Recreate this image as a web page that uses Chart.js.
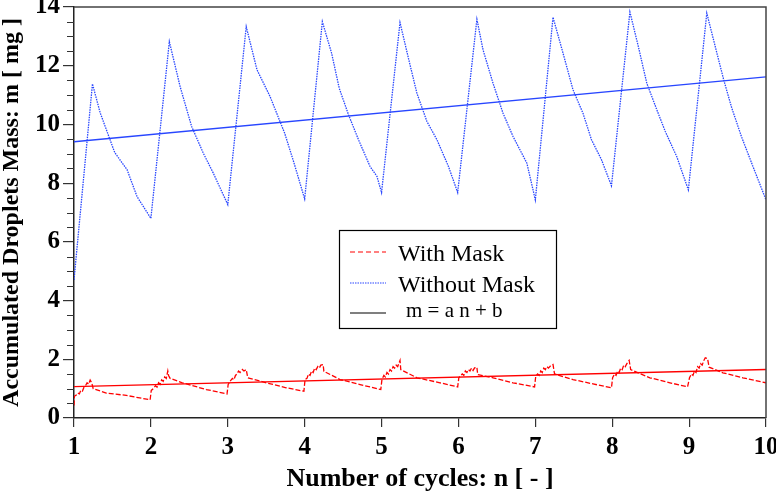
<!DOCTYPE html>
<html>
<head>
<meta charset="utf-8">
<script src="https://cdn.jsdelivr.net/npm/chart.js@4.4.1/dist/chart.umd.min.js"></script>
<style>
    html, body { margin: 0; padding: 0; background: #fff; }
    #wrap { position: relative; width: 776px; height: 493px; }
</style>
</head>
<body>
<div id="wrap"><canvas id="chart" width="776" height="493"></canvas></div>
<script>
// Without mask (blue dotted): cycle number n and mass m [mg]
const noMaskN = [1.00, 1.24, 1.34, 1.53, 1.69, 1.82, 2.00,
    2.24, 2.38, 2.53, 2.68, 2.81, 3.00,
    3.24, 3.38, 3.55, 3.74, 3.86, 4.00,
    4.23, 4.35, 4.45, 4.57, 4.70, 4.85, 4.94, 5.00,
    5.24, 5.35, 5.46, 5.59, 5.72, 5.87, 5.99,
    6.24, 6.32, 6.45, 6.58, 6.71, 6.89, 7.00,
    7.23, 7.36, 7.49, 7.62, 7.73, 7.86, 7.99,
    8.23, 8.34, 8.45, 8.58, 8.69, 8.84, 8.99,
    9.23, 9.34, 9.45, 9.55, 9.68, 9.83, 10.00];
const noMaskM = [4.70, 11.38, 10.40, 9.04, 8.46, 7.54, 6.80,
    12.82, 11.29, 9.93, 9.03, 8.35, 7.27,
    13.33, 11.86, 10.95, 9.70, 8.70, 7.46,
    13.50, 12.43, 11.23, 10.33, 9.48, 8.57, 8.23, 7.68,
    13.47, 12.25, 11.06, 10.10, 9.48, 8.57, 7.68,
    13.58, 12.54, 11.40, 10.38, 9.59, 8.68, 7.43,
    13.65, 12.43, 11.18, 10.38, 9.48, 8.80, 7.91,
    13.83, 12.65, 11.40, 10.50, 9.76, 8.90, 7.77,
    13.79, 12.65, 11.52, 10.60, 9.59, 8.57, 7.43];

// With mask (red dashed)
const maskN = [1.000, 1.005, 1.03, 1.05, 1.07, 1.09, 1.11, 1.13, 1.15, 1.17, 1.19, 1.21, 1.23, 1.25, 1.42, 1.68, 1.99,
    2.005, 2.03, 2.06, 2.08, 2.10, 2.12, 2.14, 2.16, 2.18, 2.20, 2.22, 2.23, 2.25, 2.41, 2.72, 2.99,
    3.005, 3.03, 3.06, 3.08, 3.10, 3.12, 3.14, 3.16, 3.19, 3.21, 3.24, 3.26, 3.50, 3.76, 3.99,
    4.005, 4.03, 4.05, 4.07, 4.09, 4.11, 4.13, 4.15, 4.17, 4.19, 4.21, 4.24, 4.25, 4.46, 4.72, 4.99,
    5.005, 5.03, 5.05, 5.07, 5.09, 5.11, 5.13, 5.15, 5.17, 5.19, 5.21, 5.24, 5.25, 5.46, 5.76, 5.99,
    6.005, 6.03, 6.05, 6.07, 6.09, 6.11, 6.13, 6.15, 6.17, 6.19, 6.21, 6.24, 6.25, 6.45, 6.71, 6.99,
    7.005, 7.03, 7.05, 7.07, 7.09, 7.11, 7.13, 7.15, 7.17, 7.20, 7.23, 7.25, 7.49, 7.75, 7.99,
    8.005, 8.03, 8.05, 8.07, 8.09, 8.11, 8.13, 8.15, 8.17, 8.19, 8.22, 8.24, 8.49, 8.75, 8.98,
    9.005, 9.03, 9.05, 9.07, 9.09, 9.11, 9.13, 9.15, 9.17, 9.19, 9.21, 9.24, 9.26, 9.44, 9.70, 10.00];
const maskM = [0.43, 0.74, 0.78, 0.85, 0.82, 0.95, 0.92, 1.05, 1.10, 1.20, 1.15, 1.29, 1.20, 1.00, 0.85, 0.77, 0.62,
    0.94, 1.00, 1.10, 1.05, 1.20, 1.15, 1.30, 1.25, 1.40, 1.35, 1.60, 1.45, 1.35, 1.20, 0.97, 0.82,
    1.14, 1.25, 1.35, 1.30, 1.45, 1.50, 1.60, 1.55, 1.65, 1.60, 1.65, 1.37, 1.20, 1.03, 0.91,
    1.31, 1.35, 1.50, 1.45, 1.60, 1.55, 1.70, 1.65, 1.75, 1.70, 1.80, 1.82, 1.59, 1.31, 1.14, 0.97,
    1.31, 1.45, 1.40, 1.55, 1.50, 1.65, 1.60, 1.75, 1.70, 1.80, 1.75, 1.96, 1.65, 1.37, 1.20, 1.06,
    1.37, 1.45, 1.50, 1.45, 1.60, 1.55, 1.65, 1.60, 1.70, 1.62, 1.71, 1.73, 1.48, 1.37, 1.20, 1.06,
    1.42, 1.50, 1.45, 1.60, 1.55, 1.70, 1.65, 1.75, 1.70, 1.78, 1.82, 1.50, 1.31, 1.16, 1.03,
    1.37, 1.50, 1.45, 1.60, 1.55, 1.70, 1.65, 1.80, 1.75, 1.85, 1.96, 1.65, 1.37, 1.20, 1.06,
    1.37, 1.50, 1.45, 1.60, 1.55, 1.75, 1.70, 1.85, 1.80, 1.95, 2.05, 2.02, 1.73, 1.54, 1.37, 1.20];

// linear fits m = a n + b, given by their ends at n = 1 and n = 10
const fitN = [1, 10];
const fitNoMask = [9.41, 11.62];
const fitMask = [1.07, 1.65];

const yMinorStep = 0.5;
const legendLabels = ['With Mask', 'Without Mask', 'm = a n + b'];

const BLUE = 'rgb(40, 70, 255)';
const RED = 'rgb(255, 0, 0)';
const SERIF = "'Liberation Serif', 'Times New Roman', serif";

function toPoints(xs, ys) {
    return xs.map((x, i) => ({ x: x, y: ys[i] }));
}

// frame on top and right of the plot, plus short minor ticks on the y axis
const framePlugin = {
    id: 'frame',
    afterDraw(chart) {
        const a = chart.chartArea;
        const ctx = chart.ctx;
        const y = chart.scales.y;
        ctx.save();
        ctx.strokeStyle = '#444';
        ctx.lineWidth = 1.5;
        ctx.beginPath();
        ctx.moveTo(a.left, a.top);
        ctx.lineTo(a.right, a.top);
        ctx.lineTo(a.right, a.bottom);
        ctx.stroke();

        ctx.strokeStyle = '#333';
        ctx.lineWidth = 1.2;
        ctx.beginPath();
        for (let v = y.min; v <= y.max; v += yMinorStep) {
            if (v % 2 === 0) continue;
            const py = Math.round(y.getPixelForValue(v)) + 0.5;
            ctx.moveTo(a.left - 7, py);
            ctx.lineTo(a.left, py);
        }
        ctx.stroke();
        ctx.restore();
    }
};

// legend box sitting inside the plot
const boxLegend = {
    id: 'boxLegend',
    afterDraw(chart) {
        const ctx = chart.ctx;
        ctx.save();
        ctx.fillStyle = '#fff';
        ctx.fillRect(339, 230, 217, 98);
        ctx.strokeStyle = '#000';
        ctx.lineWidth = 1.2;
        ctx.strokeRect(339.5, 230.5, 217, 98);

        const rows = [
            { y: 252, color: RED, dash: [5, 3], tx: 398, ty: 261, font: '24px ' + SERIF },
            { y: 283, color: BLUE, dash: [1.5, 1], tx: 398, ty: 292, font: '24px ' + SERIF },
            { y: 313, color: '#000', dash: [], tx: 406, ty: 317, font: '21px ' + SERIF }
        ];
        rows.forEach((r, i) => {
            ctx.strokeStyle = r.color;
            ctx.lineWidth = 1.2;
            ctx.setLineDash(r.dash);
            ctx.beginPath();
            ctx.moveTo(350, r.y);
            ctx.lineTo(386, r.y);
            ctx.stroke();
            ctx.setLineDash([]);
            ctx.fillStyle = '#000';
            ctx.font = r.font;
            ctx.textBaseline = 'alphabetic';
            ctx.fillText(legendLabels[i], r.tx, r.ty);
        });
        ctx.restore();
    }
};

const ctx = document.getElementById('chart');
new Chart(ctx, {
    type: 'line',
    data: {
        datasets: [
            {
                label: 'Without Mask',
                data: toPoints(noMaskN, noMaskM),
                borderColor: BLUE,
                borderWidth: 1.3,
                borderDash: [1.5, 1],
                pointRadius: 0,
                tension: 0
            },
            {
                label: 'With Mask',
                data: toPoints(maskN, maskM),
                borderColor: RED,
                borderWidth: 1.3,
                borderDash: [5, 2],
                pointRadius: 0,
                tension: 0
            },
            {
                label: 'fit without mask',
                data: toPoints(fitN, fitNoMask),
                borderColor: BLUE,
                borderWidth: 1.4,
                pointRadius: 0
            },
            {
                label: 'fit with mask',
                data: toPoints(fitN, fitMask),
                borderColor: RED,
                borderWidth: 1.4,
                pointRadius: 0
            }
        ]
    },
    options: {
        responsive: false,
        animation: false,
        devicePixelRatio: 1,
        layout: { padding: { top: 7, right: 10, left: 0, bottom: 0 } },
        plugins: {
            legend: { display: false },
            tooltip: { enabled: false }
        },
        scales: {
            x: {
                type: 'linear',
                min: 1,
                max: 10,
                ticks: {
                    stepSize: 1,
                    color: '#000',
                    padding: 6,
                    font: { family: SERIF, size: 25, weight: 'bold' }
                },
                grid: { drawOnChartArea: false, drawTicks: true, tickLength: 9, color: '#333', lineWidth: 1.2 },
                border: { color: '#222', width: 1.5 },
                title: {
                    display: true,
                    text: 'Number of cycles: n [ - ]',
                    color: '#000',
                    font: { family: SERIF, size: 26, weight: 'bold', lineHeight: 1 },
                    padding: { top: 0, bottom: 1 }
                },
                afterFit(scale) {
                    scale.height = 75;
                    scale.paddingLeft = 0;
                    scale.paddingRight = 0;
                }
            },
            y: {
                min: 0,
                max: 14,
                ticks: {
                    stepSize: 2,
                    autoSkip: false,
                    color: '#000',
                    padding: 3,
                    font: { family: SERIF, size: 25, weight: 'bold' }
                },
                grid: { drawOnChartArea: false, drawTicks: true, tickLength: 11, color: '#333', lineWidth: 1.2 },
                border: { color: '#222', width: 1.5 },
                title: {
                    display: true,
                    text: 'Accumulated Droplets Mass: m [ mg ]',
                    color: '#000',
                    font: { family: SERIF, size: 24, weight: 'bold', lineHeight: 1 },
                    padding: 0
                },
                afterFit(scale) {
                    scale.width = 74;
                    scale.paddingTop = 0;
                    scale.paddingBottom = 0;
                }
            }
        }
    },
    plugins: [framePlugin, boxLegend]
});
</script>
</body>
</html>
